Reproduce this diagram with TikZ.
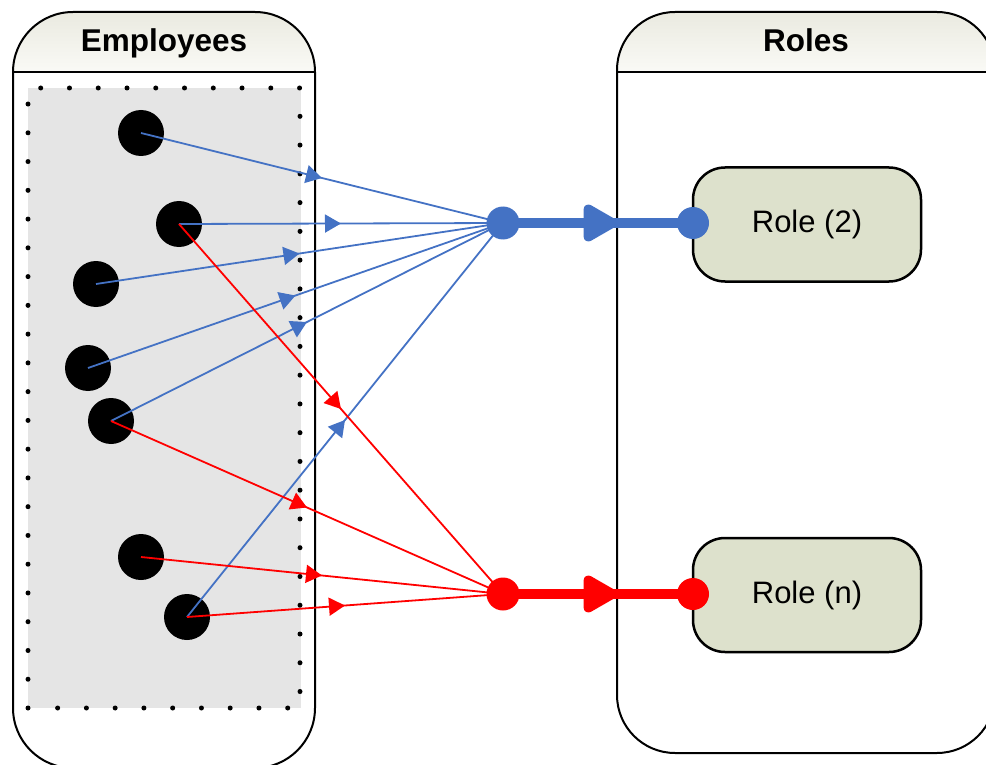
\documentclass[tikz,border=0pt]{standalone}
\usepackage{fontspec}
\setmainfont{Liberation Sans}
\usetikzlibrary{arrows.meta,decorations.markings}

\definecolor{linkblue}{RGB}{68,114,196}
\definecolor{linkred}{RGB}{255,0,0}
\definecolor{poolgray}{RGB}{229,229,229}
\definecolor{rolefill}{RGB}{221,225,204}
\definecolor{headtop}{RGB}{234,234,224}
\definecolor{headbot}{RGB}{250,250,246}

\pgfdeclarelayer{wires}
\pgfdeclarelayer{front}
\pgfsetlayers{main,wires,front}

\tikzset{
  lane/.style={draw=black, line width=2pt, rounded corners=60pt},
  lanehead/.style={top color=headtop, bottom color=headbot, rounded corners=60pt},
  lanetitle/.style={font=\fontsize{31.5}{37}\selectfont\bfseries, inner sep=0pt, anchor=base},
  person/.style={circle, fill=black, minimum size=46pt, inner sep=0pt},
  hub/.style={circle, fill=#1, minimum size=33pt, inner sep=0pt},
  roleend/.style={circle, fill=#1, minimum size=32pt, inner sep=0pt},
  rolebox/.style={draw=black, line width=2.5pt, fill=rolefill, rounded corners=32pt,
    minimum width=228pt, minimum height=114pt, inner sep=0pt,
    font=\fontsize{31}{37}\selectfont},
  member/.style={color=#1, line width=1.8pt, postaction={decorate},
    decoration={markings, mark=at position 0.5 with {\arrow{Triangle[length=16pt,width=18pt]}}}},
  assign/.style={color=#1, line width=10pt, postaction={decorate},
    decoration={markings, mark=at position 0.6 with {\arrow{Triangle[length=39pt,width=41pt,round]}}}},
}

\begin{document}
\begin{tikzpicture}[x=1pt, y=-1pt]
\useasboundingbox (0,0) rectangle (986,765);

% swimlane: employees
\fill[white, rounded corners=60pt] (13,12) rectangle (315,768);
\fill[lanehead] (13,72) -- (13,12) -- (315,12) [sharp corners] -- (315,72) -- cycle;
\draw[lane] (13,12) rectangle (315,768);
\draw[line width=2pt] (13,72) -- (315,72);
\node[lanetitle] (emptitle) at (164,52) {Employees};

% swimlane: roles
\fill[white, rounded corners=58pt] (617,12) rectangle (995,753);
\fill[lanehead] (617,72) -- (617,12) -- (995,12) [sharp corners] -- (995,72) -- cycle;
\draw[lane, rounded corners=58pt] (617,12) rectangle (995,753);
\draw[line width=2pt] (617,72) -- (995,72);
\node[lanetitle] (roletitle) at (806,52) {Roles};

% employee pool with dotted border
\fill[poolgray] (28,88) rectangle (301,708);
\draw[line width=5pt, line cap=round, dash pattern=on 0pt off 28.76pt]
  (28,708) -- (28,88) -- (300,88) -- (300,708) -- (33,708);

% employees
\node[person] (e1) at (141,133) {};
\node[person] (e2) at (179,224) {};
\node[person] (e3) at (96,284) {};
\node[person] (e4) at (88,368) {};
\node[person] (e5) at (111,421) {};
\node[person] (e6) at (141,557) {};
\node[person] (e7) at (187,617) {};

% roles
\node[rolebox] (role2) at (807,224.5) {Role (2)};
\node[rolebox] (rolen) at (807,595) {Role (n)};

% junction points and role ports
\begin{pgfonlayer}{front}
\node[hub=linkblue] (bh) at (503,223) {};
\node[hub=linkred] (rh) at (503,594) {};
\node[roleend=linkblue] (bd) at (693,223) {};
\node[roleend=linkred] (rd) at (693,594) {};
\end{pgfonlayer}

% memberships
\begin{pgfonlayer}{wires}
\foreach \p in {e1,e2,e3,e4,e5,e7}
  \draw[member=linkblue] (\p.center) -- (bh.center);
\foreach \p in {e2,e5,e6,e7}
  \draw[member=linkred] (\p.center) -- (rh.center);
\draw[assign=linkblue] (bh.center) -- (bd.center);
\draw[assign=linkred] (rh.center) -- (rd.center);
\end{pgfonlayer}
\end{tikzpicture}
\end{document}
